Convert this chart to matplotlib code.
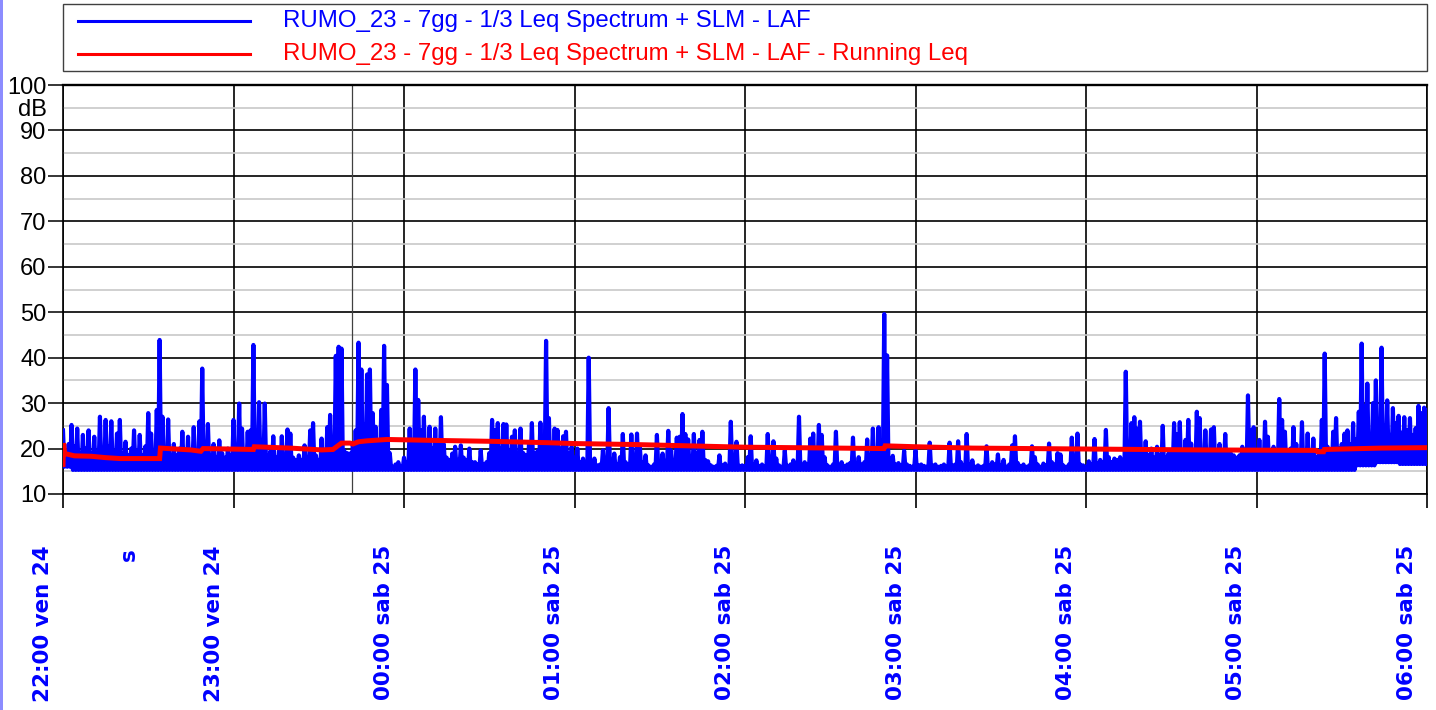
import numpy as np
import matplotlib
matplotlib.use("Agg")
import matplotlib.pyplot as plt
from matplotlib.patches import Rectangle
from matplotlib.lines import Line2D
import matplotlib.transforms as mtransforms

# ---- data -----------------------------------------------------------------
# x axis: minutes after 22:00 (Fri 24) up to 06:00 (Sat 25)
hour_ticks = [0, 60, 120, 180, 240, 300, 360, 420, 480]
hour_labels = ["22:00 ven 24", "23:00 ven 24", "00:00 sab 25", "01:00 sab 25",
               "02:00 sab 25", "03:00 sab 25", "04:00 sab 25", "05:00 sab 25",
               "06:00 sab 25"]
y_major = [10, 20, 30, 40, 50, 60, 70, 80, 90, 100]
y_minor = [15, 25, 35, 45, 55, 65, 75, 85, 95]
marker_minute = 101.7  # thin marker line

legend_labels = ["RUMO_23 - 7gg - 1/3 Leq Spectrum + SLM - LAF",
                 "RUMO_23 - 7gg - 1/3 Leq Spectrum + SLM - LAF - Running Leq"]

# LAF: per-minute maximum level (dB)
laf_max = [
    24.0, 19.5, 21.0, 25.2, 20.5, 24.4, 19.0, 23.0, 20.0, 24.0,
    19.0, 22.6, 18.5, 27.0, 19.5, 26.3, 20.5, 26.0, 18.5, 23.3,
    26.3, 19.0, 21.5, 18.5, 20.0, 24.0, 19.5, 23.0, 18.5, 20.5,
    27.8, 23.3, 19.5, 28.5, 43.9, 27.0, 20.0, 26.4, 18.5, 21.0,
    18.5, 20.0, 23.7, 19.0, 22.6, 18.5, 24.7, 19.5, 26.0, 37.6,
    20.0, 25.4, 18.5, 21.0, 18.0, 21.8, 19.0, 18.0, 20.0, 18.5,
    26.3, 20.5, 29.9, 24.4, 19.5, 23.7, 24.0, 42.8, 21.0, 30.2,
    20.0, 29.9, 18.5, 19.5, 22.7, 18.0, 19.5, 22.7, 18.5, 24.2,
    23.3, 18.0, 17.5, 18.5, 17.5, 20.7, 18.0, 24.0, 25.6, 18.5,
    17.5, 22.2, 19.0, 24.7, 27.4, 22.0, 40.4, 42.4, 42.0, 19.5,
    19.0, 18.9, 21.0, 24.0, 43.3, 37.4, 25.2, 36.3, 37.4, 27.8,
    24.8, 21.0, 28.5, 42.6, 34.0, 19.0, 16.0, 16.5, 17.0, 16.0,
    18.0, 17.0, 24.4, 20.0, 37.4, 30.7, 24.0, 27.0, 21.0, 24.8,
    20.0, 24.4, 21.0, 26.9, 21.0, 18.0, 17.5, 18.9, 20.4, 17.5,
    20.7, 18.0, 17.5, 20.0, 17.0, 17.0, 16.5, 19.6, 16.5, 17.0,
    19.0, 26.3, 24.0, 25.6, 20.0, 25.4, 25.3, 19.5, 22.6, 24.0,
    18.9, 24.4, 19.0, 18.5, 21.1, 25.6, 19.0, 19.5, 25.7, 22.6,
    43.7, 26.7, 20.5, 24.4, 24.1, 20.0, 22.7, 23.7, 19.0, 20.4,
    18.0, 20.0, 17.0, 17.8, 16.5, 40.0, 16.5, 17.8, 16.3, 16.5,
    19.6, 16.5, 28.9, 16.3, 18.9, 16.5, 18.1, 23.2, 17.0, 16.5,
    23.1, 17.5, 23.3, 20.4, 17.0, 18.5, 16.3, 16.0, 16.5, 23.0,
    16.5, 18.9, 17.0, 23.9, 19.6, 17.0, 22.4, 22.6, 27.6, 23.2,
    22.0, 18.0, 23.2, 19.0, 21.9, 23.7, 17.5, 17.2, 16.3, 16.0,
    16.2, 18.5, 16.3, 16.7, 16.0, 25.9, 16.5, 21.5, 16.2, 16.3,
    16.2, 18.1, 22.7, 16.5, 17.4, 16.2, 16.5, 16.0, 23.2, 16.5,
    21.6, 17.8, 16.3, 16.0, 19.6, 16.2, 16.5, 17.4, 16.0, 27.0,
    16.3, 17.0, 16.5, 22.2, 23.3, 19.5, 25.2, 23.0, 18.1, 16.3,
    16.0, 16.5, 23.7, 16.3, 17.0, 16.2, 16.5, 16.8, 22.4, 16.5,
    18.1, 16.5, 17.0, 22.0, 17.5, 24.4, 19.6, 24.7, 18.9, 49.6,
    40.5, 17.5, 18.4, 16.5, 16.8, 16.3, 19.5, 16.5, 16.2, 16.0,
    19.6, 16.3, 16.5, 16.2, 16.0, 21.3, 16.3, 16.5, 16.0, 16.2,
    16.5, 16.0, 21.3, 16.3, 16.5, 21.6, 17.0, 16.3, 23.2, 16.5,
    17.4, 16.0, 16.3, 16.0, 16.2, 20.5, 16.3, 17.0, 16.5, 18.7,
    16.3, 17.5, 16.0, 16.5, 20.7, 22.7, 16.8, 16.2, 16.5, 16.0,
    16.3, 20.5, 18.1, 16.5, 16.0, 16.7, 16.3, 21.1, 17.0, 16.5,
    19.0, 18.7, 16.3, 16.0, 16.5, 22.4, 16.8, 23.3, 16.5, 16.3,
    16.0, 17.2, 16.5, 22.1, 16.8, 17.5, 17.0, 24.1, 18.1, 17.0,
    17.8, 17.5, 18.1, 17.5, 36.9, 19.0, 25.6, 26.9, 24.4, 25.9,
    19.5, 21.6, 18.5, 20.0, 18.0, 20.4, 18.5, 25.0, 18.0, 18.9,
    19.0, 25.6, 23.2, 25.8, 19.5, 21.9, 26.3, 21.1, 19.0, 28.1,
    26.7, 19.5, 24.0, 19.0, 24.2, 24.7, 19.5, 21.0, 19.0, 23.2,
    19.0, 18.9, 18.5, 18.0, 18.5, 20.4, 19.0, 31.7, 24.0, 24.7,
    19.5, 21.9, 19.0, 25.9, 22.6, 19.0, 20.4, 19.5, 30.9, 26.3,
    23.7, 19.0, 20.0, 24.7, 21.0, 19.5, 25.8, 19.0, 23.3, 19.5,
    22.2, 18.1, 19.5, 26.3, 40.9, 20.4, 19.0, 23.7, 26.7, 20.0,
    21.0, 23.3, 24.0, 21.0, 25.6, 22.0, 28.1, 43.1, 29.3, 34.3,
    23.0, 30.0, 35.0, 24.0, 42.2, 25.0, 30.6, 23.0, 28.9, 25.6,
    27.2, 23.5, 26.9, 24.0, 26.7, 23.0, 24.5, 29.4, 27.8, 29.0,
    28.5,
]
# LAF: background floor level, as (start minute, dB) segments
floor_start = [0, 3, 455, 462, 470]
floor_db = [16.0, 15.3, 16.3, 17.0, 16.6]

# Running Leq breakpoints
leq_minute = [0, 0.2, 0.6, 2, 4, 10, 15, 20, 34, 34.3, 45, 48.5, 49.3, 67, 67.3,
              80, 91, 95, 98, 101, 102, 104, 107, 114, 130, 150, 170, 180, 200,
              220, 240, 288.9, 289.3, 300, 320, 360, 400, 441, 441.5, 443.6,
              443.9, 457, 463.8, 480]
leq_db = [16.5, 21.2, 18.9, 18.7, 18.4, 18.3, 18.0, 17.8, 17.8, 20.1, 19.7, 19.4,
          20.0, 19.8, 20.4, 20.1, 19.7, 19.8, 21.2, 21.2, 21.0, 21.5, 21.7, 22.0,
          21.8, 21.6, 21.3, 21.1, 20.9, 20.6, 20.3, 20.0, 20.6, 20.4, 20.1, 19.9,
          19.7, 19.6, 19.3, 19.3, 19.8, 20.0, 20.1, 20.2]

# ---- figure ---------------------------------------------------------------
W, H = 1436, 710
fig = plt.figure(figsize=(W / 100, H / 100), dpi=100)
fig.patch.set_facecolor("white")

BLUE = "#0000ff"
RED = "#ff0000"
REG = "Liberation Sans"


def fx(px):
    return px / W


def fy(py):
    return 1 - py / H


# left accent strip
fig.add_artist(Rectangle((0, 0), fx(3), 1, transform=fig.transFigure,
                         facecolor="#8c8cff", edgecolor="none"))

# legend box
fig.add_artist(Rectangle((fx(63), fy(71)), fx(1364), fy(4) - fy(71),
                         transform=fig.transFigure, facecolor="white",
                         edgecolor="#404040", lw=1.0))
for i, (lab, col) in enumerate(zip(legend_labels, [BLUE, RED])):
    ly = 21 + 33 * i
    fig.add_artist(Line2D([fx(78), fx(250)], [fy(ly), fy(ly)],
                          transform=fig.transFigure, color=col, lw=2.2))
    fig.text(fx(283), fy(27 + 33 * i), lab, color=col, fontsize=17.3,
             family=REG, ha="left", va="baseline")

ax = fig.add_axes([fx(63), fy(494), fx(1364), fy(85) - fy(494)])
ax.set_xlim(0, 480)
ax.set_ylim(10, 100)

# blue LAF trace: alternate per-minute maxima and floor values
t = np.arange(len(laf_max), dtype=float)
seg = np.searchsorted(floor_start, t, side="right") - 1
floor = np.asarray(floor_db)[seg]
xs = np.column_stack([t, t + 0.5]).ravel()
ys = np.column_stack([np.asarray(laf_max), floor]).ravel()
ax.plot(xs, ys, color=BLUE, lw=3.0, solid_joinstyle="round", zorder=3)

# red running Leq
ax.plot(leq_minute, leq_db, color=RED, lw=3.6, zorder=4,
        solid_joinstyle="miter")

# grid
ax.set_yticks(y_major)
ax.set_yticks(y_minor, minor=True)
ax.set_xticks(hour_ticks)
ax.set_axisbelow(True)
ax.grid(which="major", axis="both", color="black", lw=1.2, zorder=1)
ax.grid(which="minor", axis="y", color="#c8c8c8", lw=1.2, zorder=0)
ax.axvline(marker_minute, color="#404040", lw=0.9, zorder=1)

for s in ax.spines.values():
    s.set_color("black")
    s.set_linewidth(1.2)
ax.spines["top"].set_linewidth(1.7)

ax.tick_params(axis="y", which="major", direction="out", length=11, width=1.1,
               color="black", labelsize=17, pad=1)
ax.tick_params(axis="y", which="minor", length=0)
ax.tick_params(axis="x", which="major", direction="out", length=10, width=1.2,
               color="black", labelbottom=False)
for lbl in ax.get_yticklabels():
    lbl.set_family(REG)

fig.text(fx(47), fy(116), "dB", fontsize=17, family=REG, ha="right",
         va="baseline", color="black")

# hour labels, vertical, shifted left of their tick
xform = ax.get_xaxis_transform() + mtransforms.ScaledTranslation(
    -20 / 100, 0, fig.dpi_scale_trans)
for tk, lab in zip(hour_ticks, hour_labels):
    ax.text(tk, -51 / 409, lab, transform=xform, rotation=90, ha="center",
            va="top", color=BLUE, fontsize=15.4, family="DejaVu Sans",
            fontweight="bold", clip_on=False)
ax.text(0, -54 / 409, "s", transform=ax.get_xaxis_transform() +
        mtransforms.ScaledTranslation(66 / 100, 0, fig.dpi_scale_trans),
        rotation=90, ha="center", va="top", color=BLUE, fontsize=15.4,
        family="DejaVu Sans", fontweight="bold", clip_on=False)

fig.savefig("out.png", dpi=100, facecolor="white")
